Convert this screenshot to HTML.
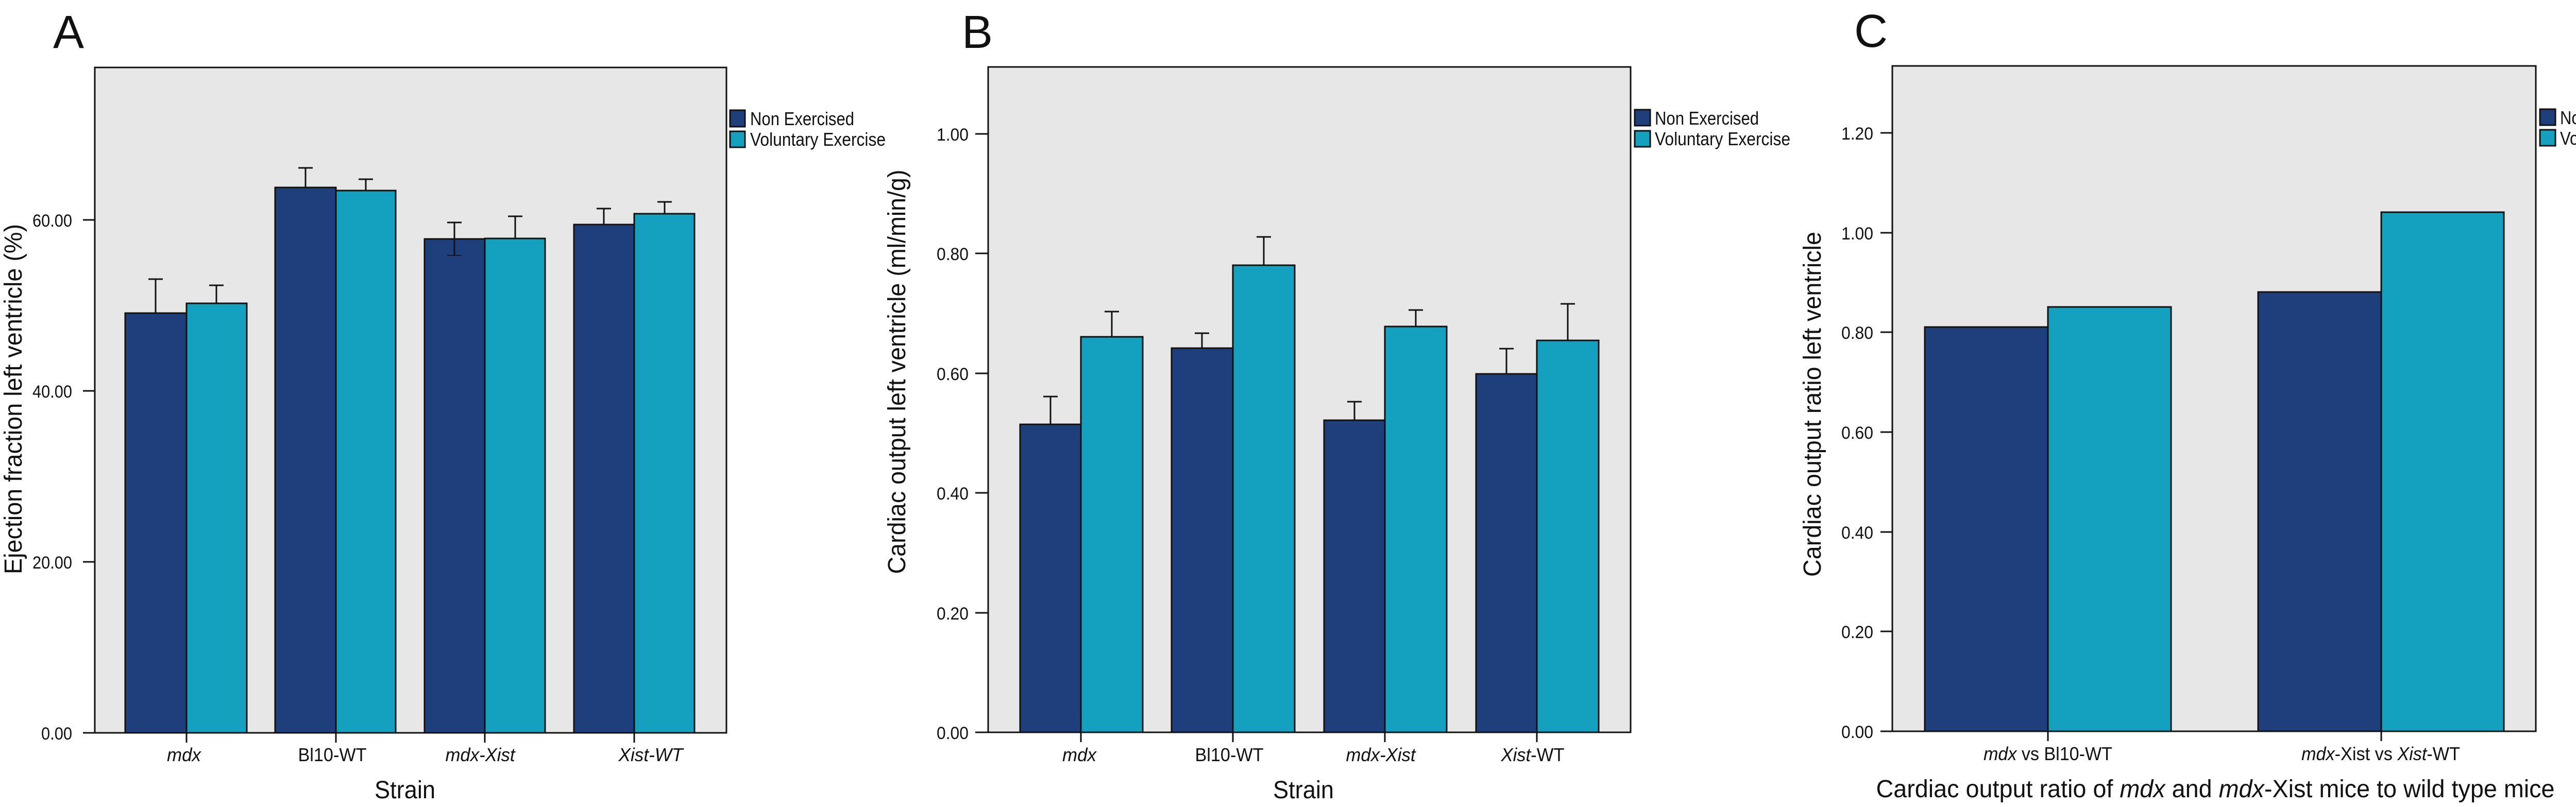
<!DOCTYPE html>
<html><head><meta charset="utf-8"><style>html,body{margin:0;padding:0;background:#fff}svg{display:block}</style></head><body>
<svg xmlns="http://www.w3.org/2000/svg" width="5231" height="1567" viewBox="0 0 5231 1567" font-family="Liberation Sans, sans-serif">
<style>
.bg{fill:#e6e7e6;stroke:#111;stroke-width:3}
.ne{fill:#1e3f7b;stroke:#111;stroke-width:3}
.ve{fill:#14a1c0;stroke:#111;stroke-width:3}
.ln{stroke:#111;stroke-width:3;fill:none}
.tk{font-size:34px;fill:#111}
.lg{font-size:36px;fill:#111}
.cat{font-size:36px;fill:#111}
.ttl{font-size:48px;fill:#111}
.pl{font-size:90px;fill:#111}
</style>

<!-- ============ PANEL A ============ -->
<text class="pl" x="103" y="93">A</text>
<rect class="bg" x="184" y="131" width="1226" height="1292"/>
<g class="ln">
<line x1="161" y1="1423" x2="184" y2="1423"/><line x1="161" y1="1091" x2="184" y2="1091"/>
<line x1="161" y1="759" x2="184" y2="759"/><line x1="161" y1="427" x2="184" y2="427"/>
</g>
<text class="tk" x="140" y="1436" text-anchor="end" textLength="60" lengthAdjust="spacingAndGlyphs">0.00</text>
<text class="tk" x="140" y="1104" text-anchor="end" textLength="77" lengthAdjust="spacingAndGlyphs">20.00</text>
<text class="tk" x="140" y="772" text-anchor="end" textLength="77" lengthAdjust="spacingAndGlyphs">40.00</text>
<text class="tk" x="140" y="440" text-anchor="end" textLength="77" lengthAdjust="spacingAndGlyphs">60.00</text>
<rect class="ne" x="243" y="608" width="119" height="815"/><rect class="ve" x="362" y="589" width="117" height="834"/>
<rect class="ne" x="534" y="364" width="118" height="1059"/><rect class="ve" x="652" y="370" width="116" height="1053"/>
<rect class="ne" x="824" y="464" width="117" height="959"/><rect class="ve" x="941" y="463" width="117" height="960"/>
<rect class="ne" x="1114" y="436" width="117" height="987"/><rect class="ve" x="1231" y="415" width="117" height="1008"/>
<g class="ln">
<line x1="302" y1="608" x2="302" y2="542"/><line x1="288" y1="542" x2="316" y2="542"/>
<line x1="420" y1="589" x2="420" y2="554"/><line x1="406" y1="554" x2="434" y2="554"/>
<line x1="593" y1="364" x2="593" y2="326"/><line x1="579" y1="326" x2="607" y2="326"/>
<line x1="710" y1="370" x2="710" y2="348"/><line x1="696" y1="348" x2="724" y2="348"/>
<line x1="882" y1="496" x2="882" y2="432"/><line x1="868" y1="432" x2="896" y2="432"/><line x1="868" y1="496" x2="896" y2="496" stroke-width="1.5"/>
<line x1="1000" y1="463" x2="1000" y2="420"/><line x1="986" y1="420" x2="1014" y2="420"/>
<line x1="1172" y1="436" x2="1172" y2="405"/><line x1="1158" y1="405" x2="1186" y2="405"/>
<line x1="1290" y1="415" x2="1290" y2="392"/><line x1="1276" y1="392" x2="1304" y2="392"/>
<line x1="362" y1="1423" x2="362" y2="1442"/><line x1="652" y1="1423" x2="652" y2="1442"/>
<line x1="941" y1="1423" x2="941" y2="1442"/><line x1="1231" y1="1423" x2="1231" y2="1442"/>
</g>
<text class="cat" x="357" y="1478" text-anchor="middle" font-style="italic" textLength="66" lengthAdjust="spacingAndGlyphs">mdx</text>
<text class="cat" x="645" y="1478" text-anchor="middle" textLength="133" lengthAdjust="spacingAndGlyphs">Bl10-WT</text>
<text class="cat" x="932" y="1478" text-anchor="middle" font-style="italic" textLength="135" lengthAdjust="spacingAndGlyphs">mdx-Xist</text>
<text class="cat" x="1263" y="1478" text-anchor="middle" font-style="italic" textLength="125" lengthAdjust="spacingAndGlyphs">Xist-WT</text>
<text class="ttl" x="786" y="1550" text-anchor="middle" textLength="118" lengthAdjust="spacingAndGlyphs">Strain</text>
<text class="ttl" transform="translate(42,775) rotate(-90)" text-anchor="middle" textLength="680" lengthAdjust="spacingAndGlyphs">Ejection fraction left ventricle (%)</text>
<rect class="ne" x="1417" y="214" width="29" height="32"/><rect class="ve" x="1417" y="255" width="29" height="31"/>
<text class="lg" x="1456" y="243" textLength="202" lengthAdjust="spacingAndGlyphs">Non Exercised</text>
<text class="lg" x="1456" y="283" textLength="263" lengthAdjust="spacingAndGlyphs">Voluntary Exercise</text>

<!-- ============ PANEL B ============ -->
<text class="pl" x="1867" y="93">B</text>
<rect class="bg" x="1918" y="130" width="1247" height="1292"/>
<g class="ln">
<line x1="1893" y1="1422" x2="1918" y2="1422"/><line x1="1893" y1="1190" x2="1918" y2="1190"/>
<line x1="1893" y1="957" x2="1918" y2="957"/><line x1="1893" y1="725" x2="1918" y2="725"/>
<line x1="1893" y1="492" x2="1918" y2="492"/><line x1="1893" y1="260" x2="1918" y2="260"/>
</g>
<text class="tk" x="1880" y="1435" text-anchor="end" textLength="62" lengthAdjust="spacingAndGlyphs">0.00</text>
<text class="tk" x="1880" y="1203" text-anchor="end" textLength="62" lengthAdjust="spacingAndGlyphs">0.20</text>
<text class="tk" x="1880" y="970" text-anchor="end" textLength="62" lengthAdjust="spacingAndGlyphs">0.40</text>
<text class="tk" x="1880" y="738" text-anchor="end" textLength="62" lengthAdjust="spacingAndGlyphs">0.60</text>
<text class="tk" x="1880" y="505" text-anchor="end" textLength="62" lengthAdjust="spacingAndGlyphs">0.80</text>
<text class="tk" x="1880" y="273" text-anchor="end" textLength="62" lengthAdjust="spacingAndGlyphs">1.00</text>
<rect class="ne" x="1980" y="824" width="118" height="598"/><rect class="ve" x="2098" y="654" width="120" height="768"/>
<rect class="ne" x="2274" y="676" width="119" height="746"/><rect class="ve" x="2393" y="515" width="120" height="907"/>
<rect class="ne" x="2570" y="816" width="118" height="606"/><rect class="ve" x="2688" y="634" width="120" height="788"/>
<rect class="ne" x="2865" y="726" width="118" height="696"/><rect class="ve" x="2983" y="661" width="120" height="761"/>
<g class="ln">
<line x1="2039" y1="824" x2="2039" y2="770"/><line x1="2025" y1="770" x2="2053" y2="770"/>
<line x1="2158" y1="654" x2="2158" y2="605"/><line x1="2144" y1="605" x2="2172" y2="605"/>
<line x1="2333" y1="676" x2="2333" y2="647"/><line x1="2319" y1="647" x2="2347" y2="647"/>
<line x1="2453" y1="515" x2="2453" y2="460"/><line x1="2439" y1="460" x2="2467" y2="460"/>
<line x1="2629" y1="816" x2="2629" y2="780"/><line x1="2615" y1="780" x2="2643" y2="780"/>
<line x1="2748" y1="634" x2="2748" y2="602"/><line x1="2734" y1="602" x2="2762" y2="602"/>
<line x1="2924" y1="726" x2="2924" y2="677"/><line x1="2910" y1="677" x2="2938" y2="677"/>
<line x1="3043" y1="661" x2="3043" y2="590"/><line x1="3029" y1="590" x2="3057" y2="590"/>
<line x1="2098" y1="1422" x2="2098" y2="1441"/><line x1="2393" y1="1422" x2="2393" y2="1441"/>
<line x1="2688" y1="1422" x2="2688" y2="1441"/><line x1="2983" y1="1422" x2="2983" y2="1441"/>
</g>
<text class="cat" x="2095" y="1478" text-anchor="middle" font-style="italic" textLength="66" lengthAdjust="spacingAndGlyphs">mdx</text>
<text class="cat" x="2386" y="1478" text-anchor="middle" textLength="133" lengthAdjust="spacingAndGlyphs">Bl10-WT</text>
<text class="cat" x="2680" y="1478" text-anchor="middle" font-style="italic" textLength="135" lengthAdjust="spacingAndGlyphs">mdx-Xist</text>
<text class="cat" x="2975" y="1478" text-anchor="middle" textLength="123" lengthAdjust="spacingAndGlyphs"><tspan font-style="italic">Xist</tspan>-WT</text>
<text class="ttl" x="2530" y="1550" text-anchor="middle" textLength="118" lengthAdjust="spacingAndGlyphs">Strain</text>
<text class="ttl" transform="translate(1757,722) rotate(-90)" text-anchor="middle" textLength="785" lengthAdjust="spacingAndGlyphs">Cardiac output left ventricle (ml/min/g)</text>
<rect class="ne" x="3173" y="213" width="30" height="31"/><rect class="ve" x="3173" y="254" width="30" height="31"/>
<text class="lg" x="3212" y="242" textLength="202" lengthAdjust="spacingAndGlyphs">Non Exercised</text>
<text class="lg" x="3212" y="282" textLength="263" lengthAdjust="spacingAndGlyphs">Voluntary Exercise</text>

<!-- ============ PANEL C ============ -->
<text class="pl" x="3599" y="91">C</text>
<rect class="bg" x="3673" y="128" width="1249" height="1292"/>
<g class="ln">
<line x1="3650" y1="1420" x2="3673" y2="1420"/><line x1="3650" y1="1226" x2="3673" y2="1226"/>
<line x1="3650" y1="1033" x2="3673" y2="1033"/><line x1="3650" y1="839" x2="3673" y2="839"/>
<line x1="3650" y1="645" x2="3673" y2="645"/><line x1="3650" y1="452" x2="3673" y2="452"/>
<line x1="3650" y1="258" x2="3673" y2="258"/>
</g>
<text class="tk" x="3636" y="1433" text-anchor="end" textLength="62" lengthAdjust="spacingAndGlyphs">0.00</text>
<text class="tk" x="3636" y="1239" text-anchor="end" textLength="62" lengthAdjust="spacingAndGlyphs">0.20</text>
<text class="tk" x="3636" y="1046" text-anchor="end" textLength="62" lengthAdjust="spacingAndGlyphs">0.40</text>
<text class="tk" x="3636" y="852" text-anchor="end" textLength="62" lengthAdjust="spacingAndGlyphs">0.60</text>
<text class="tk" x="3636" y="658" text-anchor="end" textLength="62" lengthAdjust="spacingAndGlyphs">0.80</text>
<text class="tk" x="3636" y="465" text-anchor="end" textLength="62" lengthAdjust="spacingAndGlyphs">1.00</text>
<text class="tk" x="3636" y="271" text-anchor="end" textLength="62" lengthAdjust="spacingAndGlyphs">1.20</text>
<rect class="ne" x="3736" y="635" width="239" height="785"/><rect class="ve" x="3975" y="596" width="239" height="824"/>
<rect class="ne" x="4383" y="567" width="239" height="853"/><rect class="ve" x="4622" y="412" width="238" height="1008"/>
<g class="ln">
<line x1="3975" y1="1420" x2="3975" y2="1439"/><line x1="4622" y1="1420" x2="4622" y2="1439"/>
</g>
<text class="cat" x="3975" y="1476" text-anchor="middle" textLength="250" lengthAdjust="spacingAndGlyphs"><tspan font-style="italic">mdx</tspan> vs Bl10-WT</text>
<text class="cat" x="4621" y="1476" text-anchor="middle" textLength="308" lengthAdjust="spacingAndGlyphs"><tspan font-style="italic">mdx</tspan>-Xist vs <tspan font-style="italic">Xist</tspan>-WT</text>
<text class="ttl" x="4300" y="1548" text-anchor="middle" textLength="1317" lengthAdjust="spacingAndGlyphs">Cardiac output ratio of <tspan font-style="italic">mdx</tspan> and <tspan font-style="italic">mdx</tspan>-Xist mice to wild type mice</text>
<text class="ttl" transform="translate(3534,785) rotate(-90)" text-anchor="middle" textLength="670" lengthAdjust="spacingAndGlyphs">Cardiac output ratio left ventricle</text>
<rect class="ne" x="4930" y="212" width="30" height="31"/><rect class="ve" x="4930" y="252" width="30" height="31"/>
<text class="lg" x="4969" y="241" textLength="202" lengthAdjust="spacingAndGlyphs">Non Exercised</text>
<text class="lg" x="4969" y="281" textLength="258" lengthAdjust="spacingAndGlyphs">Voluntary Exercise</text>
</svg>
</body></html>
